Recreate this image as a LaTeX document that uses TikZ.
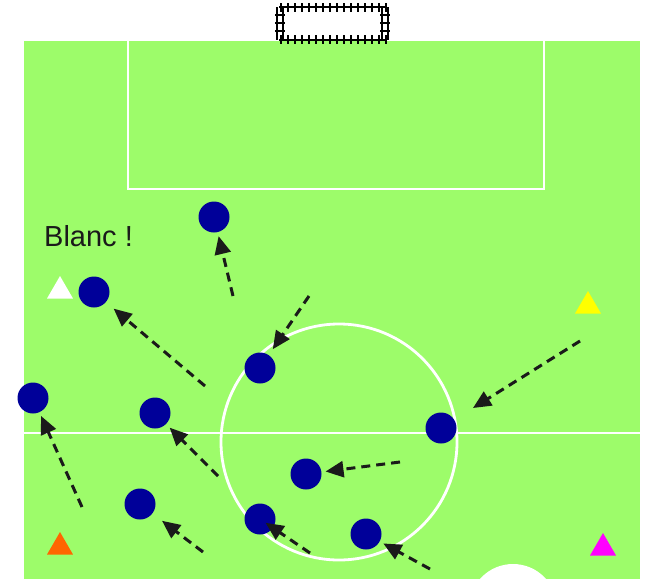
\documentclass[tikz,border=0pt]{standalone}
\usepackage{fontspec}
\setmainfont{Liberation Sans}
\usetikzlibrary{arrows.meta,shapes.geometric}
\definecolor{field}{RGB}{157,252,106}
\definecolor{player}{RGB}{0,0,153}
\definecolor{ink}{RGB}{26,26,26}
\definecolor{orng}{RGB}{255,102,0}
\definecolor{mgnt}{RGB}{255,0,255}
\definecolor{yllw}{RGB}{255,255,0}
\begin{document}
\begin{tikzpicture}[x=1pt,y=-1pt,
  pl/.style={circle, fill=player, minimum size=31pt, inner sep=0pt},
  cone/.style={regular polygon, regular polygon sides=3, minimum size=30pt, inner sep=0pt},
  arr/.style={draw=ink, line width=3pt, dash pattern=on 9pt off 6pt,
    -{Triangle[length=18pt,width=16pt]}},
  fieldline/.style={draw=white, line width=2.8pt},
  net/.style={draw=black, line width=1.8pt}]
\useasboundingbox (0,0) rectangle (645,579);
% field
\fill[field] (24,41) rectangle (640,579);
\draw[fieldline] (128,41) -- (128,189) -- (544,189) -- (544,41);
\draw[fieldline] (24,433) -- (640,433);
\draw[fieldline] (339,442) circle (118);
\begin{scope}
  \clip (24,41) rectangle (640,579);
  \fill[white] (513,608) circle (44);
\end{scope}
% goal
\draw[net] (279,7) -- (386,7);
\draw[net] (279,40) -- (386,40);
\draw[net] (277,7) -- (277,40) (283,7) -- (283,40);
\draw[net] (382,7) -- (382,40) (388,7) -- (388,40);
\foreach \x in {281,288,...,386} {
  \draw[net] (\x,3) -- (\x,12);
  \draw[net] (\x,35) -- (\x,44);
}
\foreach \y in {15,23,31} {
  \draw[net] (275,\y) -- (285,\y);
  \draw[net] (380,\y) -- (390,\y);
}
% text
\node[anchor=base west, inner sep=0pt, text=ink, font=\fontsize{29}{34}\selectfont] (blanc) at (44,246) {Blanc !};
% cones
\node[cone, fill=white] (cw) at (60,291) {};
\node[cone, fill=yllw] (cy) at (588,306) {};
\node[cone, fill=orng] (co) at (60,547) {};
\node[cone, fill=mgnt] (cm) at (603,548) {};
% players
\node[pl] (p1) at (214,217) {};
\node[pl] (p2) at (94,292) {};
\node[pl] (p3) at (33,398) {};
\node[pl] (p4) at (155,413) {};
\node[pl] (p5) at (260,368) {};
\node[pl] (p6) at (441,428) {};
\node[pl] (p7) at (306,474) {};
\node[pl] (p8) at (140,504) {};
\node[pl] (p9) at (260,519) {};
\node[pl] (p10) at (366,534) {};
% arrow tails
\coordinate (s1) at (233,296);
\coordinate (s2) at (205,386);
\coordinate (s3) at (82,507);
\coordinate (s4) at (218,476);
\coordinate (s5) at (309,296);
\coordinate (s6) at (580,341);
\coordinate (s7) at (400,462);
\coordinate (s8) at (203,552);
\coordinate (s9) at (310,553);
\coordinate (s10) at (430,569);
% arrows
\draw[arr, shorten >=4pt] (s1) -- (p1);
\draw[arr, shorten >=10pt] (s2) -- (p2);
\draw[arr, shorten >=4pt] (s3) -- (p3);
\draw[arr, shorten >=5pt] (s4) -- (p4);
\draw[arr, shorten >=7pt] (s5) -- (p5);
\draw[arr, shorten >=22pt] (s6) -- (p6);
\draw[arr, shorten >=4pt] (s7) -- (p7);
\draw[arr, shorten >=12pt] (s8) -- (p8);
\draw[arr, shorten >=-9pt] (s9) -- (p9);
\draw[arr, shorten >=4pt] (s10) -- (p10);
\end{tikzpicture}
\end{document}
